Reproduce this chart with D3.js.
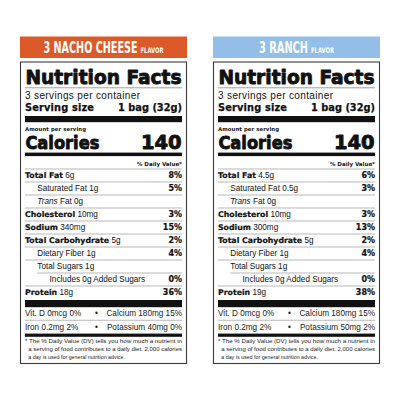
<!DOCTYPE html>
<html>
<head>
<meta charset="utf-8">
<script src="https://cdn.jsdelivr.net/npm/d3@7"></script>
<style>
  body { margin: 0; background: #fff; }
  svg { display: block; }
</style>
</head>
<body>
<svg width="400" height="400"></svg>
<script>
// Datos de las dos etiquetas
const flavors = ["3 NACHO CHEESE", "3 RANCH"];
const nutrientNames = ["Total Fat", "Saturated Fat", "Trans Fat", "Cholesterol", "Sodium",
                       "Total Carbohydrate", "Dietary Fiber", "Total Sugars", "Includes", "Protein"];
const nutrientBold = [true, false, false, true, true, true, false, false, false, true];
const nutrientIndent = [0, 1, 1, 0, 0, 0, 1, 1, 2, 0];
const nachoAmounts = ["6g", "1g", "0g", "10mg", "340mg", "5g", "1g", "1g", "0g", "18g"];
const nachoDV = ["8%", "5%", "", "3%", "15%", "2%", "4%", "", "0%", "36%"];
const ranchAmounts = ["4.5g", "0.5g", "0g", "10mg", "300mg", "5g", "1g", "1g", "0g", "19g"];
const ranchDV = ["6%", "3%", "", "3%", "13%", "2%", "4%", "", "0%", "38%"];
const nachoMinerals = [["Vit. D 0mcg 0%", "Calcium 180mg 15%"], ["Iron 0.2mg 2%", "Potassium 40mg 0%"]];
const ranchMinerals = [["Vit. D 0mcg 0%", "Calcium 180mg 15%"], ["Iron 0.2mg 2%", "Potassium 50mg 2%"]];
const servings = "3 servings per container";
const servingSize = "1 bag (32g)";
const calories = [140, 140];
const footnote = ["* The % Daily Value (DV) tells you how much a nutrient in",
                  "a serving of food contributes to a daily diet. 2,000 calories",
                  "a day is used for general nutrition advice."];

const bannerColor = { "3 NACHO CHEESE": "#dc5a27", "3 RANCH": "#93bee8" };
const amounts = [nachoAmounts, ranchAmounts];
const dvs = [nachoDV, ranchDV];
const minerals = [nachoMinerals, ranchMinerals];

const svg = d3.select("svg");
const heavy = "'DejaVu Sans', sans-serif";
const plain = "'Liberation Sans', Arial, sans-serif";
const cond = "'DejaVu Sans Condensed', 'DejaVu Sans', sans-serif";
const ink = "#111";

// Escala horizontal de los paneles
const x = d3.scaleBand().domain(flavors).range([20, 380]).paddingInner(26 / 193);
const w = x.bandwidth();
const left = 5, right = w - 5;

// Escalas verticales de las filas
const y = d3.scaleLinear().domain([0, nutrientNames.length]).range([169, 169 + 13 * nutrientNames.length]);
const yMin = d3.scaleLinear().domain([0, 2]).range([307, 333.5]);
const indent = d3.scaleLinear().domain([0, 1]).range([left, left + 12.3]);

// Texto comprimido horizontalmente hasta un ancho dado
function squeeze(sel, x0, y0, width) {
  const nat = sel.node().getComputedTextLength();
  sel.attr("transform", `translate(${x0},${y0}) scale(${width / nat},1)`);
}

flavors.forEach((f, k) => {
  const g = svg.append("g").attr("transform", `translate(${x(f)},0)`);

  // Banda superior
  g.append("rect").attr("x", 0).attr("y", 36.5).attr("width", w).attr("height", 21.5)
    .attr("fill", bannerColor[f]);
  const nameLen = f.length > 8 ? 94 : 49;
  const bx = w / 2 - (nameLen + 26) / 2;
  const name = g.append("text").attr("font-family", cond).attr("font-weight", "bold")
    .attr("font-size", 16).attr("fill", "#fff").text(f);
  squeeze(name, bx, 53.3, nameLen);
  const flav = g.append("text").attr("font-family", cond).attr("font-weight", "bold")
    .attr("font-size", 7.6).attr("fill", "#fff").text("FLAVOR");
  squeeze(flav, bx + nameLen + 3, 53.3, 23);

  // Marco
  g.append("rect").attr("x", 0.5).attr("y", 62).attr("width", w - 1).attr("height", 301.5)
    .attr("fill", "none").attr("stroke", "#3a3a3a").attr("stroke-width", 1.1);

  // Titulo
  g.append("text").attr("x", left + 0.4).attr("y", 84.3).attr("font-family", heavy)
    .attr("font-weight", 900).attr("font-size", 19.5).attr("fill", ink)
    .attr("stroke", ink).attr("stroke-width", 0.9).attr("stroke-linejoin", "round")
    .attr("textLength", right - left - 0.8).attr("lengthAdjust", "spacingAndGlyphs").text("Nutrition Facts");
  g.append("line").attr("x1", left).attr("x2", right).attr("y1", 87.8).attr("y2", 87.8)
    .attr("stroke", "#777").attr("stroke-width", 0.7);

  g.append("text").attr("x", left).attr("y", 98.7).attr("font-family", plain).attr("fill", ink)
    .attr("font-size", 10).attr("textLength", 115).text(servings);
  g.append("text").attr("x", left).attr("y", 111).attr("font-family", heavy).attr("fill", ink)
    .attr("stroke", ink).attr("stroke-width", 0.25)
    .attr("font-weight", "bold").attr("font-size", 9.8).attr("textLength", 69).text("Serving size");
  g.append("text").attr("x", right).attr("y", 111).attr("font-family", heavy).attr("fill", ink)
    .attr("stroke", ink).attr("stroke-width", 0.25)
    .attr("font-weight", "bold").attr("font-size", 9.8).attr("text-anchor", "end").text(servingSize);

  // Barras negras
  const bars = [[116, 6.2], [152.6, 3.5], [300, 7.2], [333.6, 3.2]];
  g.selectAll("rect.bar").data(bars).enter().append("rect").attr("class", "bar")
    .attr("x", left).attr("width", right - left).attr("y", d => d[0]).attr("height", d => d[1])
    .attr("fill", ink);

  g.append("text").attr("x", left).attr("y", 130.7).attr("font-family", heavy).attr("fill", ink)
    .attr("font-weight", "bold").attr("font-size", 5.3).attr("textLength", 61).text("Amount per serving");
  g.append("text").attr("x", left + 0.4).attr("y", 148.8).attr("font-family", heavy).attr("fill", ink)
    .attr("stroke", ink).attr("stroke-width", 0.9).attr("stroke-linejoin", "round")
    .attr("font-weight", 900).attr("font-size", 18.5).attr("textLength", 74)
    .attr("lengthAdjust", "spacingAndGlyphs").text("Calories");
  g.append("text").attr("x", right - 0.4).attr("y", 148.8).attr("font-family", heavy).attr("fill", ink)
    .attr("stroke", ink).attr("stroke-width", 0.9).attr("stroke-linejoin", "round")
    .attr("font-weight", 900).attr("font-size", 19.5).attr("text-anchor", "end").text(calories[k]);

  g.append("text").attr("x", right).attr("y", 165.7).attr("font-family", heavy).attr("fill", ink)
    .attr("font-weight", "bold").attr("font-size", 5.5).attr("text-anchor", "end").text("% Daily Value*");

  // Filas de nutrientes
  const rows = nutrientNames.map((n, i) => ({
    name: n, bold: nutrientBold[i], ind: nutrientIndent[i],
    amount: amounts[k][i], dv: dvs[k][i], i: i
  }));

  g.selectAll("line.row").data(rows).enter().append("line").attr("class", "row")
    .attr("x1", d => d.ind === 2 ? indent(1) : left).attr("x2", right)
    .attr("y1", d => y(d.i)).attr("y2", d => y(d.i))
    .attr("stroke", "#999").attr("stroke-width", 0.7);

  const label = g.selectAll("text.row").data(rows).enter().append("text").attr("class", "row")
    .attr("x", d => indent(d.ind)).attr("y", d => y(d.i) + 9.4)
    .attr("font-size", 8.2).attr("fill", ink);
  label.each(function(d) {
    const t = d3.select(this);
    if (d.bold) {
      t.append("tspan").attr("font-family", heavy).attr("font-weight", "bold").attr("font-size", 7.8)
        .attr("stroke", ink).attr("stroke-width", 0.2).text(d.name);
      t.append("tspan").attr("font-family", plain).text(" " + d.amount);
    } else if (d.name === "Trans Fat") {
      t.append("tspan").attr("font-family", plain).attr("font-style", "italic").text("Trans");
      t.append("tspan").attr("font-family", plain).text(" Fat " + d.amount);
    } else if (d.name === "Includes") {
      t.append("tspan").attr("font-family", plain).text("Includes " + d.amount + " Added Sugars");
    } else {
      t.append("tspan").attr("font-family", plain).text(d.name + " " + d.amount);
    }
  });

  g.selectAll("text.dv").data(rows.filter(d => d.dv)).enter().append("text").attr("class", "dv")
    .attr("x", right).attr("y", d => y(d.i) + 9.4).attr("text-anchor", "end")
    .attr("font-family", heavy).attr("font-weight", "bold").attr("font-size", 8)
    .attr("stroke", ink).attr("stroke-width", 0.2)
    .attr("fill", ink).text(d => d.dv);

  // Vitaminas y minerales
  g.append("line").attr("x1", left).attr("x2", right).attr("y1", yMin(1)).attr("y2", yMin(1))
    .attr("stroke", "#999").attr("stroke-width", 0.7);
  const mrow = g.selectAll("g.min").data(minerals[k]).enter().append("g").attr("class", "min")
    .attr("font-family", plain).attr("font-size", 8.2).attr("fill", "#222");
  mrow.append("text").attr("x", left).attr("y", (d, i) => yMin(i) + 9.3).text(d => d[0]);
  mrow.append("text").attr("x", 76.5).attr("y", (d, i) => yMin(i) + 9.3).attr("text-anchor", "middle").text("•");
  mrow.append("text").attr("x", right).attr("y", (d, i) => yMin(i) + 9.3).attr("text-anchor", "end").text(d => d[1]);

  // Nota al pie
  g.selectAll("text.foot").data(footnote).enter().append("text").attr("class", "foot")
    .attr("x", (d, i) => i === 0 ? left : left + 3.3)
    .attr("y", (d, i) => 343.3 + i * 8)
    .attr("font-family", plain).attr("font-size", 5.3).attr("fill", "#222")
    .attr("textLength", (d, i) => i === 0 ? right - left : (i === 1 ? right - left - 3.3 : null))
    .attr("lengthAdjust", "spacingAndGlyphs")
    .text(d => d);
});
</script>
</body>
</html>
